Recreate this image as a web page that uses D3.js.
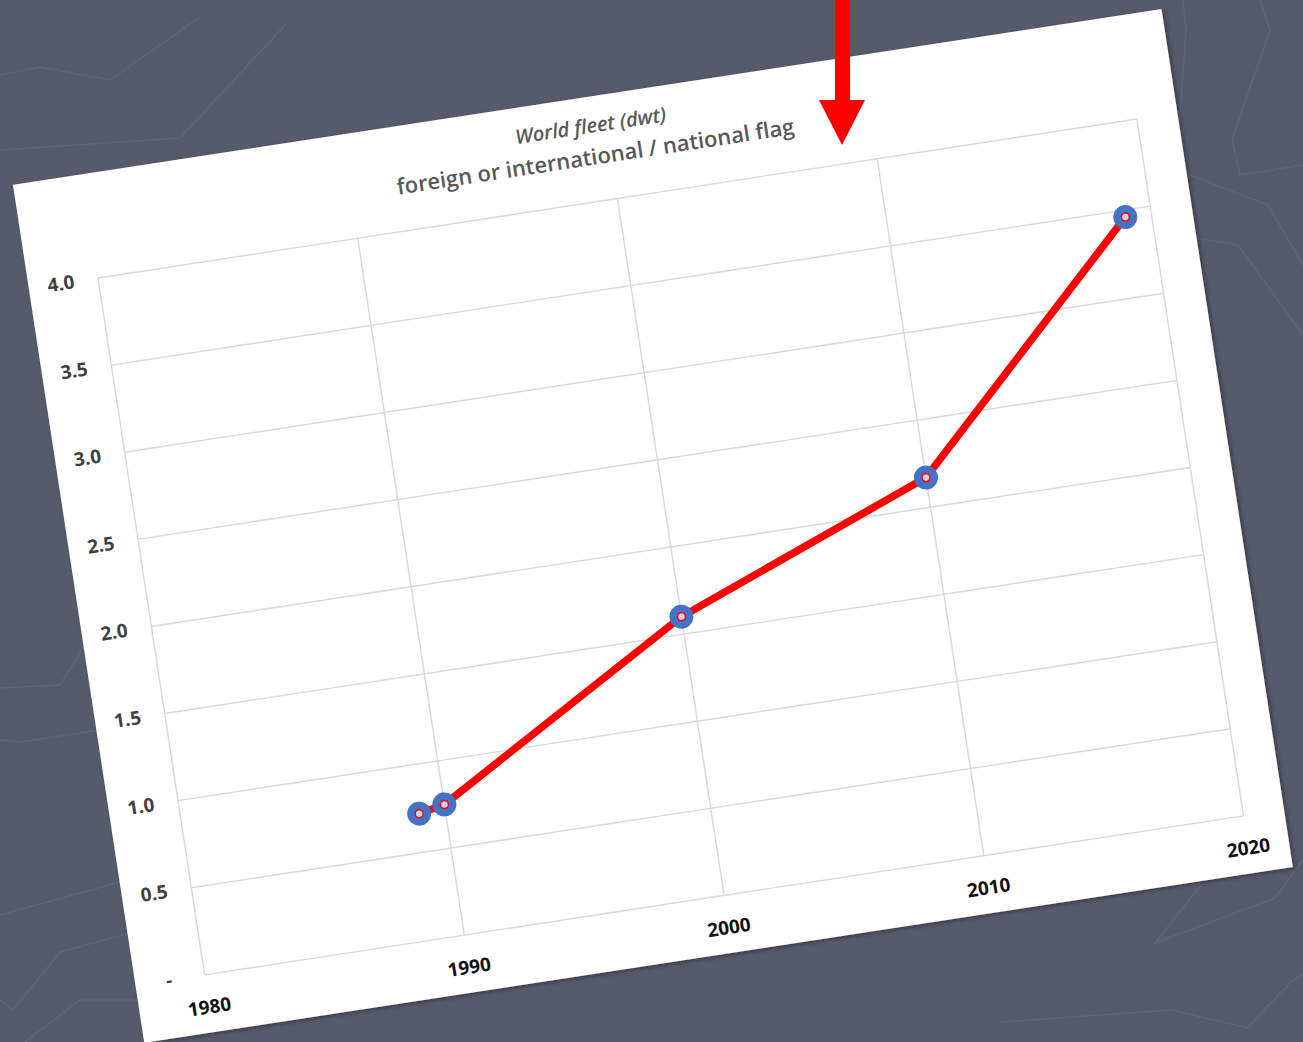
<!DOCTYPE html>
<html>
<head>
<meta charset="utf-8">
<script src="https://cdn.jsdelivr.net/npm/d3@7"></script>
<style>
  html, body { margin: 0; padding: 0; background: #575a6b; overflow: hidden; }
  svg { display: block; }
</style>
</head>
<body>
<svg id="chart" width="1303" height="1042"></svg>
<script>
// ---- data ----
const years = [1989, 1990, 2000, 2010, 2019];
const ratio = [0.72, 0.75, 1.60, 2.17, 3.46];
const yTicks = [0, 0.5, 1.0, 1.5, 2.0, 2.5, 3.0, 3.5, 4.0];
const yTickLabels = ["-", "0.5", "1.0", "1.5", "2.0", "2.5", "3.0", "3.5", "4.0"];
const xTicks = [1980, 1990, 2000, 2010, 2020];
const xTickLabels = ["1980", "1990", "2000", "2010", "2020"];
const titleLine1 = "World fleet (dwt)";
const titleLine2 = "foreign or international / national flag";

// background decoration polylines (slide texture)
const bgLines = [
  [[0,75],[40,67],[110,80],[200,17]],
  [[0,150],[180,138],[287,23]],
  [[1183,0],[1186,30],[1176,170]],
  [[1260,0],[1270,30],[1232,140],[1240,175],[1303,165]],
  [[1190,175],[1268,205],[1303,265]],
  [[1195,238],[1238,245],[1303,335]],
  [[1205,880],[1155,943],[1275,898],[1303,860]],
  [[1000,1022],[1172,1010],[1247,1028],[1293,980],[1303,975]],
  [[0,688],[60,685],[85,645]],
  [[0,740],[20,742],[100,730]],
  [[0,915],[120,882]],
  [[0,1000],[13,1010],[60,952],[130,933]],
  [[25,1042],[80,1000],[135,1000]]
];

const svg = d3.select("#chart");

// background
svg.append("rect").attr("width", 1303).attr("height", 1042).attr("fill", "#575a6b");
svg.append("g").selectAll("path").data(bgLines).join("path")
  .attr("d", d3.line())
  .attr("fill", "none")
  .attr("stroke", "#606377")
  .attr("stroke-width", 1.5);

// shadow filter
const defs = svg.append("defs");
const f = defs.append("filter").attr("id", "sh").attr("x", "-5%").attr("y", "-5%").attr("width", "110%").attr("height", "110%");
f.append("feDropShadow").attr("dx", 2).attr("dy", 2).attr("stdDeviation", 2).attr("flood-color", "#000").attr("flood-opacity", 0.35);

const W = 1051, H = 705;
const g = svg.append("g").attr("transform", "translate(98,278) rotate(-8.7)");

// card
g.append("rect").attr("x", -70).attr("y", -105).attr("width", 1162).attr("height", 868)
  .attr("fill", "#ffffff").attr("filter", "url(#sh)");

const x = d3.scaleLinear().domain([1980, 2020]).range([0, W]);
const y = d3.scaleLinear().domain([0, 4]).range([H, 0]);

// gridlines
g.append("g").selectAll("line").data(yTicks).join("line")
  .attr("x1", 0).attr("x2", W)
  .attr("y1", d => y(d)).attr("y2", d => y(d))
  .attr("stroke", "#d9d9d9").attr("stroke-width", 1.4);
g.append("g").selectAll("line").data(xTicks).join("line")
  .attr("x1", d => x(d)).attr("x2", d => x(d))
  .attr("y1", 0).attr("y2", H)
  .attr("stroke", "#d9d9d9").attr("stroke-width", 1.4);

// y labels
g.append("g").selectAll("text").data(yTicks).join("text")
  .attr("x", (d, i) => i === 0 ? -33 : -24)
  .attr("y", d => y(d))
  .attr("dy", "0.35em")
  .attr("text-anchor", "end")
  .attr("font-family", "'Open Sans', sans-serif")
  .attr("font-weight", 700)
  .attr("font-size", 19)
  .attr("fill", "#404040")
  .text((d, i) => yTickLabels[i]);

// x labels
g.append("g").selectAll("text").data(xTicks).join("text")
  .attr("x", d => x(d))
  .attr("y", H + 39)
  .attr("text-anchor", "middle")
  .attr("font-family", "'Open Sans', sans-serif")
  .attr("font-weight", 700)
  .attr("font-size", 19)
  .attr("fill", "#111")
  .text((d, i) => xTickLabels[i]);

// titles
g.append("text").attr("x", 510).attr("y", -69).attr("text-anchor", "middle")
  .attr("font-family", "'Open Sans', sans-serif").attr("font-style", "italic")
  .attr("font-weight", 600)
  .attr("font-size", 20).attr("fill", "#595959").text(titleLine1);
g.append("text").attr("x", 510).attr("y", -37).attr("text-anchor", "middle")
  .attr("font-family", "'Open Sans', sans-serif")
  .attr("font-weight", 600)
  .attr("font-size", 22).attr("fill", "#595959").text(titleLine2);

// line
const pts = years.map((yr, i) => [x(yr), y(ratio[i])]);
g.append("path").datum(pts)
  .attr("d", d3.line())
  .attr("fill", "none").attr("stroke", "#ff0000").attr("stroke-width", 7.5)
  .attr("stroke-linejoin", "round");

// markers
const m = g.append("g").selectAll("g").data(pts).join("g")
  .attr("transform", d => `translate(${d[0]},${d[1]})`);
m.append("circle").attr("r", 12).attr("fill", "#4472c4");
m.append("circle").attr("r", 4).attr("fill", "#c9d5ee").attr("stroke", "#ff0000").attr("stroke-width", 1.5);

// red arrow (annotation)
const arrow = svg.append("g");
arrow.append("rect").attr("x", 835).attr("y", 0).attr("width", 15).attr("height", 102).attr("fill", "#ff0000");
arrow.append("path").attr("d", "M819,100 L865,100 L842,145 Z").attr("fill", "#ff0000");
</script>
</body>
</html>
